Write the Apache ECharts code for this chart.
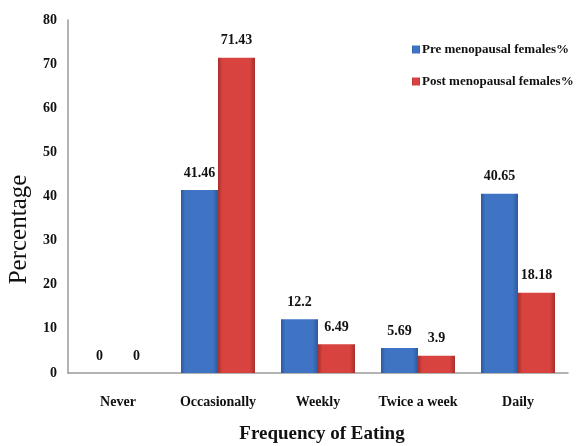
<!DOCTYPE html>
<html>
<head>
<meta charset="utf-8">
<script src="https://cdn.jsdelivr.net/npm/echarts@6/dist/echarts.min.js"></script>
<style>
  html, body { margin: 0; padding: 0; background: #fff; }
  #chart { width: 576px; height: 446px; }
</style>
</head>
<body>
<div id="chart"></div>
<script>
// Frequency of eating, by menopausal status
const categories = ['Never', 'Occasionally', 'Weekly', 'Twice a week', 'Daily'];
const preMenopausal = [0, 41.46, 12.2, 5.69, 40.65];
const postMenopausal = [0, 71.43, 6.49, 3.9, 18.18];
const yTicks = { min: 0, max: 80, interval: 10 };

const FONT = '"Liberation Serif", "Times New Roman", serif';

function barGradient(edge, mid) {
  return new echarts.graphic.LinearGradient(0, 0, 1, 0, [
    { offset: 0, color: edge },
    { offset: 0.12, color: mid },
    { offset: 0.85, color: mid },
    { offset: 1, color: edge }
  ]);
}

const labelStyle = {
  show: true,
  position: 'top',
  distance: 10,
  fontFamily: FONT,
  fontWeight: 'bold',
  fontSize: 14,
  color: '#111'
};

const chart = echarts.init(document.getElementById('chart'));
chart.setOption({
  animation: false,
  textStyle: { fontFamily: FONT },
  grid: { left: 68, right: 8, top: 20, bottom: 73, outerBoundsMode: 'none', containLabel: false },
  legend: {
    orient: 'vertical',
    left: 407,
    top: 38,
    itemWidth: 8,
    itemHeight: 8,
    itemGap: 19,
    icon: 'rect',
    textStyle: { fontFamily: FONT, fontWeight: 'bold', fontSize: 13, color: '#111', padding: [0, 0, 0, -3] }
  },
  xAxis: {
    type: 'category',
    data: categories,
    name: 'Frequency of Eating',
    nameLocation: 'middle',
    nameGap: 52,
    nameTextStyle: { fontFamily: FONT, fontWeight: 'bold', fontSize: 19, color: '#111', padding: [0, 0, 0, 8] },
    axisLine: { lineStyle: { color: '#9a9a9a', width: 1.5 } },
    axisTick: { show: false },
    axisLabel: { interval: 0, margin: 22, fontFamily: FONT, fontWeight: 'bold', fontSize: 14, color: '#111' }
  },
  yAxis: {
    type: 'value',
    min: yTicks.min,
    max: yTicks.max,
    interval: yTicks.interval,
    name: 'Percentage',
    nameLocation: 'middle',
    nameGap: 31,
    nameTextStyle: { fontFamily: FONT, fontSize: 25, color: '#111', padding: [0, 66, 0, 0] },
    axisLine: { show: true, lineStyle: { color: '#9a9a9a', width: 1.5 } },
    axisTick: { show: false },
    splitLine: { show: false },
    axisLabel: { margin: 11, fontFamily: FONT, fontWeight: 'bold', fontSize: 14, color: '#111' }
  },
  series: [
    {
      name: 'Pre menopausal females%',
      type: 'bar',
      data: preMenopausal,
      barGap: '0%',
      barCategoryGap: '26%',
      itemStyle: { color: barGradient('#2c5a9e', '#3f74c4') },
      label: labelStyle
    },
    {
      name: 'Post menopausal females%',
      type: 'bar',
      data: postMenopausal,
      itemStyle: { color: barGradient('#a8302c', '#d8433f') },
      label: labelStyle
    }
  ]
});
</script>
</body>
</html>
